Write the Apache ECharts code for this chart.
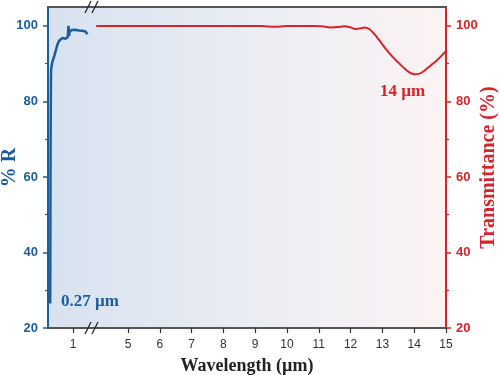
<!DOCTYPE html>
<html><head><meta charset="utf-8">
<script src="https://cdn.jsdelivr.net/npm/echarts@6/dist/echarts.min.js"></script>
<style>html,body{margin:0;padding:0;background:#fff}#c{width:500px;height:375px}</style>
</head><body><div id="c"></div>
<script>
// Reflectance (%R) vs wavelength (µm), left segment
const reflWavelength = [0.27,0.272,0.275,0.278,0.28,0.285,0.29,0.295,0.30,0.34,0.40,0.45,0.50,0.55,0.61,0.66,0.71,0.76,0.80,0.83,0.845,0.855,0.865,0.875,0.885,0.90,0.95,1.00,1.05,1.10,1.20,1.30,1.36,1.40,1.44,1.46];
const reflPercent    = [26.5,30,40,52,60,72,80,86,88.5,90.5,92,93.5,95,96,96.5,96.8,96.9,96.6,96.8,97.0,97.5,100,99,97.3,98.3,98.8,98.9,99.1,99.0,98.9,98.8,98.7,98.7,98.5,98.0,97.8];
// Transmittance (%) vs wavelength (µm), right segment
const transWavelength = [4,4.5,5,5.5,6,6.5,7,7.5,8,8.5,9,9.3,9.6,9.9,10.2,10.5,10.8,11.1,11.35,11.6,11.8,12.0,12.15,12.3,12.45,12.6,12.75,12.9,13.1,13.3,13.5,13.7,13.85,14.0,14.15,14.3,14.5,14.7,14.85,15];
const transPercent    = [100,100,100,100,100,100,100,100,100,100,100,99.9,99.8,99.9,100,100,100,99.9,99.6,99.7,99.9,99.6,99.2,99.3,99.6,99.1,97.8,96.2,94,92,90.3,88.7,87.7,87.2,87.3,88,89.4,90.8,92,93.4];
// Tick labels
const xTicksLeft = [1];
const xTicksRight = [5,6,7,8,9,10,11,12,13,14,15];
const yTicks = [20,40,60,80,100];
const yMinorTicks = [30,50,70,90];

const BLUE = '#1b5e9b', RED = '#d8232a', GRAY = '#555555', TXT = '#333333';
const L = 48, R = 54, T = 7, B = 47, SPLIT = 93, H = 375;
const serif = '"Liberation Serif","Times New Roman",serif';
const sans = '"Liberation Sans",Arial,sans-serif';

const chart = echarts.init(document.getElementById('c'));

function xSeg(grid, min, max, ticks) {
  return {gridIndex: grid, type: 'value', min: min, max: max, position: 'bottom',
    axisLine: {show: false, onZero: false},
    axisTick: {show: true, customValues: ticks, length: 5, lineStyle: {color: TXT, width: 1.2}},
    axisLabel: {customValues: ticks, margin: 11, color: TXT, fontFamily: sans, fontSize: 12},
    splitLine: {show: false}};
}
function yMain(grid, pos, color, name) {
  return {gridIndex: grid, type: 'value', min: 20, max: 105, position: pos,
    axisLine: {show: true, onZero: false, lineStyle: {color: color, width: 2}},
    axisTick: {show: true, customValues: yTicks, length: 5, lineStyle: {color: color, width: 1.5}},
    axisLabel: {customValues: yTicks, margin: 10, color: color, fontFamily: sans, fontWeight: 'bold', fontSize: 13},
    splitLine: {show: false},
    name: name, nameLocation: 'middle', nameRotate: 90, nameMoveOverlap: false,
    nameGap: pos === 'left' ? 28 : 33,
    nameTextStyle: {color: color, fontFamily: serif, fontWeight: 'bold', fontSize: 20}};
}
function yMinor(grid, pos, color) {
  return {gridIndex: grid, type: 'value', min: 20, max: 105, position: pos,
    axisLine: {show: false, onZero: false},
    axisTick: {show: true, customValues: yMinorTicks, length: 3, lineStyle: {color: color, width: 1.2}},
    axisLabel: {show: false}, splitLine: {show: false}};
}

const breakMarks = [];
[T, H - B].forEach(function (y) {
  [0, 7].forEach(function (dx) {
    breakMarks.push({type: 'line', z: 100,
      shape: {x1: 85 + dx, y1: y + 6, x2: 91 + dx, y2: y - 6},
      style: {stroke: '#222', lineWidth: 1.2}});
  });
});

chart.setOption({
  animation: false,
  grid: [
    {left: L, right: R, top: T, bottom: B, show: true, borderWidth: 0, outerBoundsMode: 'none', containLabel: false,
      backgroundColor: {type: 'linear', x: 0, y: 0, x2: 1, y2: 0,
        colorStops: [{offset: 0, color: '#d7e2f0'}, {offset: 0.5, color: '#eaedf3'}, {offset: 1, color: '#fcf3f3'}]}},
    {left: L, width: SPLIT - L, top: T, bottom: B, outerBoundsMode: 'none', containLabel: false},
    {left: SPLIT, right: R, top: T, bottom: B, outerBoundsMode: 'none', containLabel: false}
  ],
  xAxis: [
    {gridIndex: 0, type: 'value', min: 0, max: 1, position: 'bottom',
      axisLine: {onZero: false, lineStyle: {color: GRAY, width: 2}},
      axisTick: {show: false}, axisLabel: {show: false}, splitLine: {show: false},
      name: 'Wavelength (µm)', nameLocation: 'middle', nameGap: 29, nameMoveOverlap: false,
      nameTextStyle: {color: '#222', fontFamily: serif, fontWeight: 'bold', fontSize: 18}},
    {gridIndex: 0, type: 'value', min: 0, max: 1, position: 'top',
      axisLine: {onZero: false, lineStyle: {color: GRAY, width: 2}},
      axisTick: {show: false}, axisLabel: {show: false}, splitLine: {show: false}},
    xSeg(1, 0.2, 1.64, xTicksLeft),
    xSeg(2, 3.9, 15, xTicksRight)
  ],
  yAxis: [
    {gridIndex: 0, type: 'value', min: 0, max: 1, show: false},
    yMain(1, 'left', BLUE, '% R'),
    yMinor(1, 'left', BLUE),
    yMain(2, 'right', RED, 'Transmittance (%)'),
    yMinor(2, 'right', RED)
  ],
  series: [
    {type: 'line', xAxisIndex: 2, yAxisIndex: 1, showSymbol: false, z: 5,
      data: reflWavelength.map(function (w, i) { return [w, reflPercent[i]]; }),
      lineStyle: {color: BLUE, width: 2.5}, color: BLUE},
    {type: 'line', xAxisIndex: 3, yAxisIndex: 3, showSymbol: false, smooth: 0.3, z: 5,
      data: transWavelength.map(function (w, i) { return [w, transPercent[i]]; }),
      lineStyle: {color: RED, width: 2}, color: RED}
  ],
  graphic: breakMarks.concat([
    {type: 'text', left: 61, top: 293, z: 100,
      style: {text: '0.27 µm', font: 'bold 17px ' + serif, fill: BLUE}},
    {type: 'text', left: 380, top: 83, z: 100,
      style: {text: '14 µm', font: 'bold 17px ' + serif, fill: RED}}
  ])
});
</script>
</body></html>
